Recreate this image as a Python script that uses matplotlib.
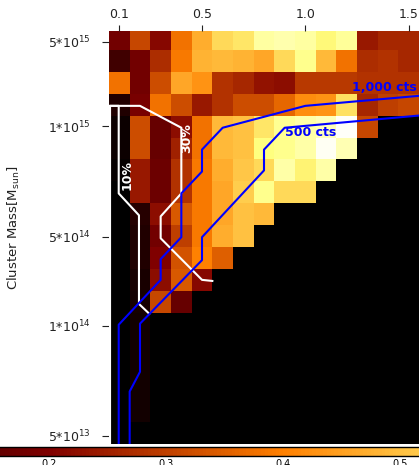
import numpy as np
import matplotlib
matplotlib.use('Agg')
import matplotlib.pyplot as plt

# redshift bins (columns) and detected fraction per mass row, top row first
redshift = [0.1, 0.2, 0.3, 0.4, 0.5, 0.6, 0.7, 0.8, 0.9, 1.0, 1.1, 1.2, 1.3, 1.4, 1.5]
frac = [
    [.18, .31, .21, .38, .47, .54, .56, .65, .67, .65, .59, .64, .24, .26, .26],
    [.10, .18, .27, .39, .48, .49, .48, .46, .54, .62, .49, .38, .27, .28, .26],
    [.38, .18, .32, .46, .43, .28, .26, .23, .22, .29, .29, .29, .28, .28, .28],
    [.05, .19, .38, .32, .24, .28, .32, .32, .36, .42, .43, .55, .26, .30, .31],
    [.02, .32, .16, .22, .38, .49, .50, .56, .63, .66, .69, .79, .31, 0, 0],
    [.02, .32, .16, .25, .38, .49, .50, .60, .62, .66, .78, .68, 0, 0, 0],
    [.01, .24, .17, .28, .39, .47, .51, .54, .66, .58, .66, 0, 0, 0, 0],
    [0, .24, .17, .28, .39, .46, .52, .62, .54, .54, 0, 0, 0, 0, 0],
    [0, .06, .22, .34, .39, .46, .50, .49, 0, 0, 0, 0, 0, 0, 0],
    [0, .05, .18, .30, .39, .47, .50, 0, 0, 0, 0, 0, 0, 0, 0],
    [0, .05, .20, .33, .40, .35, 0, 0, 0, 0, 0, 0, 0, 0, 0],
    [0, .04, .22, .34, .21, 0, 0, 0, 0, 0, 0, 0, 0, 0, 0],
    [0, .035, .31, .16, 0, 0, 0, 0, 0, 0, 0, 0, 0, 0, 0],
    [0, .03, 0, 0, 0, 0, 0, 0, 0, 0, 0, 0, 0, 0, 0],
    [0, .03, 0, 0, 0, 0, 0, 0, 0, 0, 0, 0, 0, 0, 0],
    [0, .03, 0, 0, 0, 0, 0, 0, 0, 0, 0, 0, 0, 0, 0],
    [0, .03, 0, 0, 0, 0, 0, 0, 0, 0, 0, 0, 0, 0, 0],
    [0, .03, 0, 0, 0, 0, 0, 0, 0, 0, 0, 0, 0, 0, 0],
    [0, 0, 0, 0, 0, 0, 0, 0, 0, 0, 0, 0, 0, 0, 0],
]

mass_labels = ['5*10$^{13}$', '1*10$^{14}$', '5*10$^{14}$', '1*10$^{15}$', '5*10$^{15}$']
mass_rows = [0.38, 5.41, 9.47, 14.51, 18.38]
z_ticks = [0.1, 0.5, 1.0, 1.5]
z_labels = ['0.1', '0.5', '1.0', '1.5']

# contour paths (redshift, mass row)
c10_z = [0.055, 0.055, 0.097, 0.097, 0.195, 0.195, 0.245]
c10_r = [-0.5, 15.45, 15.45, 11.45, 10.45, 6.4, 5.95]
c30_z = [0.05, 0.2, 0.4, 0.4, 0.3, 0.3, 0.5, 0.55]
c30_r = [15.45, 15.45, 14.45, 11.45, 10.4, 9.4, 7.5, 7.45]
cts1000_z = [1.6, 1.0, 0.6, 0.5, 0.5, 0.4, 0.4, 0.3, 0.3, 0.097, 0.097]
cts1000_r = [15.95, 15.45, 14.45, 13.45, 12.45, 11.45, 9.45, 8.45, 7.5, 5.45, -0.5]
cts500_z = [1.6, 0.9, 0.8, 0.8, 0.5, 0.5, 0.2, 0.2, 0.15, 0.15]
cts500_r = [15.05, 14.45, 13.45, 12.5, 9.45, 8.4, 5.5, 3.3, 2.4, -0.5]

fig = plt.figure(figsize=(4.19, 4.65), dpi=100)
ax = fig.add_axes([109/419, 21/465, 310/419, 413/465])

grid = np.array(frac[::-1])
z = np.array(redshift)
zedges = np.append(z - 0.05, z[-1] + 0.05)
redges = np.arange(grid.shape[0] + 1)
mesh = ax.pcolormesh(zedges, redges, grid, cmap='afmhot', vmin=0, vmax=0.8)

ax.plot(c10_z, c10_r, color='white', lw=1.5)
ax.plot(c30_z, c30_r, color='white', lw=1.5)
ax.plot(cts1000_z, cts1000_r, color='blue', lw=1.5)
ax.plot(cts500_z, cts500_r, color='blue', lw=1.5)

ax.text(0.135, 12.27, '10%', color='white', fontsize=9, fontweight='bold',
        rotation=90, ha='center', va='center')
ax.text(0.426, 13.96, '30%', color='white', fontsize=9, fontweight='bold',
        rotation=90, ha='center', va='center')
ax.text(1.382, 16.29, '1,000 cts', color='blue', fontsize=9, fontweight='bold',
        ha='center', va='center')
ax.text(1.028, 14.21, '500 cts', color='blue', fontsize=9, fontweight='bold',
        ha='center', va='center')

ax.set_xlim(0.05, 1.55)
ax.set_ylim(0, 18.87)
ax.xaxis.tick_top()
ax.set_xticks(z_ticks)
ax.set_xticklabels(z_labels)
ax.set_yticks(mass_rows)
ax.set_yticklabels(mass_labels)
ax.tick_params(axis='x', length=4, labelsize=9, colors='#222222')
ax.tick_params(axis='y', length=5, pad=8, labelsize=9, colors='#222222')
for s in ax.spines.values():
    s.set_visible(False)
ax.set_ylabel('Cluster Mass[M$_{\\rm sun}$]', fontsize=9.5, color='#222222')
ax.yaxis.set_label_coords(-0.28, 0.524)

# colour bar runs off both sides of the figure
cax = fig.add_axes([-185/419, 9/465, 936/419, 9/465])
cb = fig.colorbar(mesh, cax=cax, orientation='horizontal')
cb.set_ticks([0.1, 0.2, 0.3, 0.4, 0.5, 0.6, 0.7])
cb.outline.set_linewidth(1)
cax.tick_params(length=0, labelsize=7, pad=2)

fig.savefig('out.png', dpi=100)
